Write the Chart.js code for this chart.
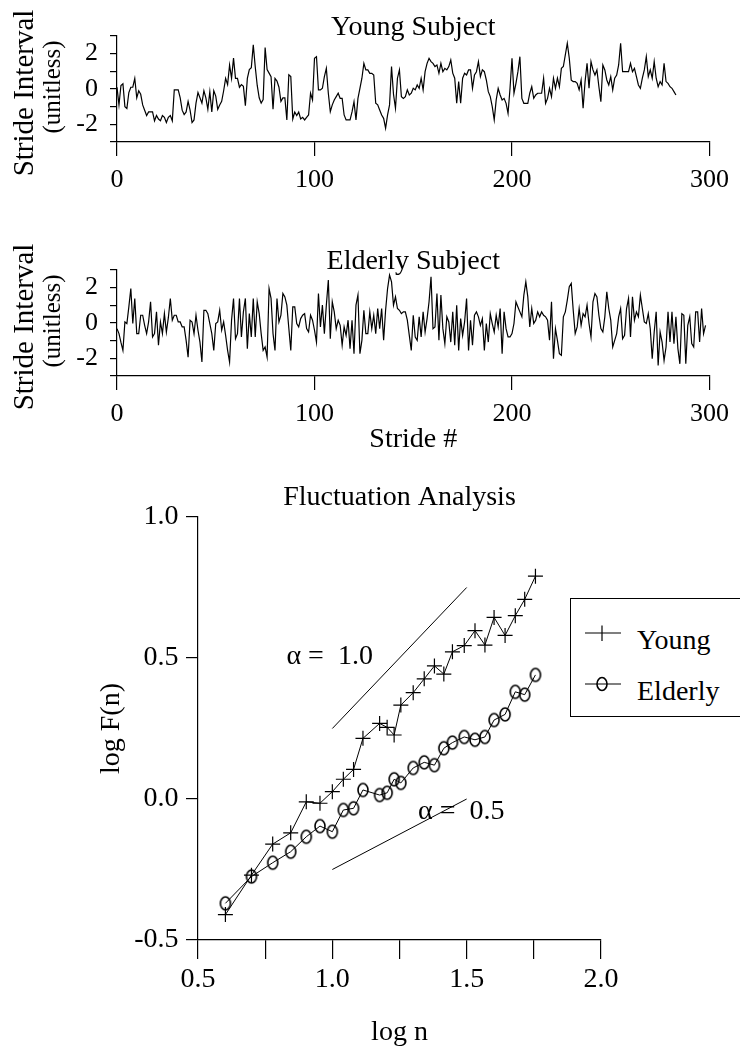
<!DOCTYPE html>
<html lang="en">

<head>
    <meta charset="UTF-8">
    <title>Stride Interval Fluctuation Analysis</title>
    <script src="https://cdn.jsdelivr.net/npm/chart.js"></script>
    <style>
        body {
            margin: 0;
            width: 740px;
            height: 1048px;
            overflow: hidden;
            background: #fff;
            font-family: "Liberation Serif", serif;
        }

        canvas {
            position: absolute;
            left: 0;
        }

        #legendBox {
            position: absolute;
            left: 570px;
            top: 598px;
            width: 190px;
            height: 119px;
            border: 1.5px solid #000;
            box-sizing: border-box;
            background: #fff;
        }

        #legendBox .txt {
            position: absolute;
            left: 66px;
            font-size: 28px;
            line-height: 28px;
            color: #000;
        }
    </style>
</head>

<body>
    <canvas id="youngChart" width="740" height="200" style="top:0px"></canvas>
    <canvas id="elderlyChart" width="740" height="232" style="top:234px"></canvas>
    <canvas id="dfaChart" width="740" height="568" style="top:480px"></canvas>

    <div id="legendBox">
        <svg width="190" height="119" style="position:absolute;left:0;top:0">
            <line x1="14" y1="34" x2="50" y2="34" stroke="#000" stroke-width="1.2" />
            <line x1="31" y1="26.5" x2="31" y2="42" stroke="#000" stroke-width="1.2" />
            <line x1="14" y1="85" x2="50" y2="85" stroke="#000" stroke-width="1.2" />
            <ellipse cx="31" cy="85" rx="5" ry="6.5" fill="none" stroke="#000" stroke-width="1.6" />
        </svg>
        <div class="txt" style="top:27px">Young</div>
        <div class="txt" style="top:78px">Elderly</div>
    </div>

    <script type="text/javascript">
        // stride interval series (unitless), one value per stride, stride # = index
        const youngStride = [
            0.1, -0.9, 0.2, 0.3, -1.0, -1.1, -0.2, 0.1, 0.1, 0.6,
            -0.5, -0.1, -0.3, -0.9, -1.2, -1.5, -1.3, -1.3, -1.3, -1.8,
            -1.5, -1.7, -1.8, -1.5, -1.6, -1.9, -1.6, -1.5, -1.8, -0.05,
            -0.05, -0.05, -0.5, -1.2, -1.45, -1.3, -0.7, -1.2, -1.9, -1.75,
            -0.8, -0.2, -0.5, -0.8, -0.1, -0.5, -1.15, -0.15, -1.3, -0.1,
            -0.4, -1.15, -0.9, -0.7, -0.1, 0.6, 0.25, 1.35, 0.6, 1.75,
            0.6, 0.6, 0.1, 0.25, 0.15, -0.95, 0.6, 1.1, 1.2, 2.5,
            1.25, 0.2, -0.5, -0.8, -0.6, 2.35, 1.1, 0.9, 0.7, -1.15,
            0.6, 0.45, 0.1, -0.7, -0.5, -0.5, -1.75, 0.8, 0.7, -1.7,
            -1.3, -1.5, -1.3, -1.7, -1.6, -1.75, -1.6,
            -1.47, -0.24, -0.62, 1.74, 1.83, -0.05, -0.05, 0.04, 0.70, 1.17,
            -0.24, -1.28, -0.9, -0.62, -0.43, -0.24, -0.53, -0.53, -1.47, -1.75,
            -1.75, -1.75, -1.3, -0.72, -1.75, -0.53, 0.04, 0.61, 1.45, 1.08,
            1.08, 0.89, 0.89, 0.79, -0.81, -0.9, -1.19, -1.47, -1.66, -2.22,
            -1.47, -0.9, 1.27, -0.3, -1.09, 0.61, 1.08, -0.43, -0.53, -0.43,
            -0.05, -0.34, -0.24, 0.04, -0.05, 0.23, 0.04, 0.61, -0.05, 0.98,
            1.45, 1.74, 1.55, 1.45, 1.27, 1.36, 0.89, 1.45, 0.98, 1.17,
            1.08, 1.27, 1.64, 0.9, 0.61, -0.81, 0.42, -0.81, 0.61, 0.89,
            0.79, 1.08, 1.08, 0.04, 0.79, 0.98, 1.55, 0.70, 1.08, 0.98,
            0.51, -0.15, -0.43, -1.0, -1.75,
            -0.62, 0.04, -0.34, -0.62, -0.53, -0.81, -1.38, 0.04, 1.74, -0.24,
            0.32, 0.98, 1.83, -0.53, -0.81, -0.81, -0.81, -0.24, 0.13, -0.53,
            -0.34, -0.24, -0.24, -0.24, 0.61, -0.81, -0.53, 0.04, -0.43, 0.61,
            0.04, 0.61, 0.13, 1.17, 1.27, 1.93, 2.59, 1.74, 0.5, 0.42,
            0.42, 0.32, -0.05, 0.51, -1.09, 0.42, 1.45, 0.04, 1.55, 1.08,
            0.79, 1.08, 0.13, -0.72, 1.36, 1.08, 0.51, 0.23, 0.70, -0.05,
            0.61, 0.79, 1.36, 2.59, 0.98, 0.98, 0.98, 0.98, 1.45, 0.98,
            1.17, 0.70, 0.23, 0.04, 0.61, 1.08, 1.83, 0.70, 1.08, 0.61,
            1.55, 0.61, 0.13, 0.42, 0.23, 1.45, 0.42, 0.32, 0.13, 0.04,
            -0.15, -0.34
        ];

        const elderlyStride = [
            -0.32, -0.60, -1.1, -1.55, 0.06, -0.03, 0.91, 1.95, -0.03, 1.39,
            -0.60, -0.60, 0.44, 0.44, -0.13, -0.60, 0.06, 1.20, -0.79, -0.60,
            0.63, -1.26, 0.06, -0.60, 0.53, -0.51, 0.3, 1.39, 0.16, 0.44,
            0.44, 0.06, 0.06, -0.22, -0.22, -0.98, -1.93, 0.16, 0.06, -0.60,
            0.44, -0.41, -1.08, -2.21, 0.72, 0.72, 0.53, -0.03, -0.60, -1.55,
            -0.03, 0.06, 0.72, -0.41, 0.06, -0.70, -1.55, -2.21, 0.16, 1.39,
            -0.89, -0.60, 1.39, -0.79, 0.63, 1.39, -1.45, 0.53, -0.79, 1.39,
            -0.79, 1.20, 0.53, -0.60, -1.55, -1.36, -1.93, 1.95, 1.39, -0.60,
            -1.55, 1.39, 0.06, 0.44, 1.67, 1.48, 1.01, -0.3, -1.55, 0.91,
            0.91, -0.03, -0.22, 0.25, 0.44, 0.53, -0.32,
            -0.51, 0.44, 0.16, -0.41, -1.08, 1.67, -0.22, 1.01, -0.60, 1.01,
            2.43, -0.89, 1.20, 0.63, -0.32, 0.16, -0.13, -1.26, -0.22, -0.70,
            0.16, -1.45, 0.16, -1.74, 1.01, 1.58, -1.74, -0.98, 0.72, -0.60,
            -0.60, 0.63, -0.32, 0.44, -0.60, 0.82, -0.32, 0.82, -0.98, 0.72,
            1.95, 2.71, 2.33, 1.01, 1.48, 0.82, 0.72, 0.53, 0.63, 0.63,
            0.16, -0.70, -1.55, 0.44, -0.79, -0.98, 0.35, -0.79, 0.63, -0.51,
            0.25, 1.20, 2.62, -0.32, -0.22, 1.67, -0.98, 1.58, -0.32, -1.17,
            0.35, 0.06, -1.08, 0.63, -1.26, 1.01, -1.55, 0.25, -0.70, 0.06,
            1.39, -1.55, 0.16, -1.26, 0.44, 0.63, 0.35, -0.13, 0.25, -1.55,
            -0.03, -1.08, 0.53, -0.03, -0.51,
            0.44, -0.22, 0.82, -1.74, 0.63, -0.32, -0.79, -0.79, -0.60, -0.03,
            1.20, 0.91, 0.63, 0.35, 1.58, 2.33, 1.48, -0.22, 0.82, -0.03,
            0.16, 0.63, 0.35, 0.63, 0.44, 0.35, 0.16, -0.98, 1.20, -2.02,
            -0.32, -0.98, -1.74, -1.83, 0.35, 0.63, 1.29, 2.05, 2.24, 0.72,
            -0.60, -0.22, 0.82, -0.13, 0.53, 0.35, 1.01, -0.03, -0.79, 1.20,
            1.67, 1.48, 0.44, -0.32, -0.51, 0.35, 1.77, 0.82, 0.16, -1.36,
            -0.98, -0.60, 0.35, 0.82, -0.89, -0.70, 0.82, 1.39, -0.79, 1.48,
            0.16, 0.63, 0.35, 1.58, 0.82, 0.06, -0.03, 0.53, -0.32, -2.02,
            -0.51, 0.63, -2.40, -0.51, -1.08, -2.12, -1.36, 0.63, -1.08, 0.63,
            -1.17, 0.35, -1.45, -2.31, 0.53, 0.44, -2.31, -0.13, 0.35, -1.17,
            -1.36, 0.63, 0.63, -1.08, 0.82, -0.60, -0.13
        ];
        const strideTickLabels = [-2, 0, 2];

        // fluctuation analysis: log n vs log F(n)
        const logN = [0.602, 0.699, 0.778, 0.845, 0.903, 0.954, 1.000, 1.041, 1.079, 1.114,
            1.176, 1.204, 1.230, 1.255, 1.301, 1.342, 1.380, 1.415, 1.447, 1.491,
            1.531, 1.568, 1.602, 1.643, 1.681, 1.716, 1.756];
        const youngLogF = [-0.41, -0.27, -0.16, -0.12, -0.01, -0.015, 0.026, 0.07, 0.105, 0.215,
            0.268, 0.254, 0.227, 0.333, 0.377, 0.426, 0.472, 0.443, 0.522, 0.544,
            0.597, 0.546, 0.644, 0.58, 0.65, 0.708, 0.79];
        const elderlyLogF = [-0.37, -0.275, -0.226, -0.187, -0.134, -0.096, -0.116, -0.039, -0.033, 0.032,
            0.014, 0.022, 0.07, 0.057, 0.11, 0.13, 0.12, 0.18, 0.20, 0.22,
            0.21, 0.22, 0.28, 0.30, 0.38, 0.37, 0.44];
        // reference slopes
        const slopeOneLine = [[1.0, 0.25], [1.5, 0.75]];
        const slopeHalfLine = [[1.0, -0.25], [1.5, 0.0]];
        const slopeNotes = [
            { text: 'α =  1.0', x: 0.99, y: 0.505 },
            { text: 'α =  0.5', x: 1.48, y: -0.045 }
        ];

        const serif = 'Liberation Serif';
        Chart.defaults.animation = false;
        Chart.defaults.color = '#000';

        // two-line rotated y title, each line with its own size
        const sideTitle = {
            id: 'sideTitle',
            afterDraw(chart, args, opts) {
                const { ctx, chartArea } = chart;
                const mid = (chartArea.top + chartArea.bottom) / 2;
                ctx.save();
                ctx.fillStyle = '#000';
                ctx.textAlign = 'center';
                ctx.textBaseline = 'middle';
                opts.lines.forEach(l => {
                    ctx.save();
                    ctx.translate(l.x, mid + l.dy);
                    ctx.rotate(-Math.PI / 2);
                    ctx.font = l.size + 'px "Liberation Serif"';
                    ctx.fillText(l.text, 0, 0);
                    ctx.restore();
                });
                ctx.restore();
            }
        };

        function strideChart(canvasId, values, title, showXTitle, canvasHeight) {
            var points = values.map((v, i) => ({ x: i, y: v }));
            return new Chart(document.getElementById(canvasId), {
                type: 'line',
                data: {
                    datasets: [{
                        data: points,
                        borderColor: '#000',
                        borderWidth: 1.2,
                        pointRadius: 0,
                        tension: 0,
                        fill: false
                    }]
                },
                options: {
                    responsive: false,
                    devicePixelRatio: 1,
                    layout: { padding: { left: 0, right: 26, top: 0, bottom: 0 } },
                    plugins: {
                        legend: { display: false },
                        tooltip: { enabled: false },
                        title: {
                            display: true,
                            text: title,
                            fullSize: false,
                            color: '#000',
                            font: { family: serif, size: 28, weight: 'normal', lineHeight: 1 },
                            padding: { top: 14, bottom: -6 }
                        },
                        sideTitle: {
                            lines: [
                                { text: 'Stride Interval', size: 29, x: 25, dy: 4 },
                                { text: '(unitless)', size: 25, x: 53, dy: -2 }
                            ]
                        }
                    },
                    scales: {
                        x: {
                            type: 'linear',
                            min: 0,
                            max: 300,
                            afterFit: (scale) => { scale.height = canvasHeight - 142; },
                            ticks: {
                                stepSize: 100,
                                maxRotation: 0,
                                autoSkip: false,
                                padding: 11,
                                color: '#000',
                                font: { family: serif, size: 26, lineHeight: 1 }
                            },
                            grid: { drawOnChartArea: false, tickLength: 14, color: '#000', lineWidth: 1.2 },
                            border: { color: '#000', width: 1.2 },
                            title: {
                                display: showXTitle,
                                text: 'Stride #',
                                color: '#000',
                                font: { family: serif, size: 28, lineHeight: 1 },
                                padding: { top: 0, bottom: 12 }
                            }
                        },
                        y: {
                            min: -3,
                            max: 3,
                            afterFit: (scale) => { scale.width = 117; },
                            ticks: {
                                stepSize: 1,
                                autoSkip: false,
                                padding: 12,
                                color: '#000',
                                font: { family: serif, size: 26, lineHeight: 1 },
                                callback: (v) => strideTickLabels.includes(v) ? String(v) : ''
                            },
                            grid: { drawOnChartArea: false, tickLength: 7, color: '#000', lineWidth: 1.2 },
                            border: { color: '#000', width: 1.2 }
                        }
                    }
                },
                plugins: [sideTitle]
            });
        }

        strideChart('youngChart', youngStride, 'Young Subject', false, 200);
        strideChart('elderlyChart', elderlyStride, 'Elderly Subject', true, 232);

        // "o" marker like the plotted letter
        function ringMark() {
            var c = document.createElement('canvas');
            c.width = 14;
            c.height = 17;
            var g = c.getContext('2d');
            g.strokeStyle = '#000';
            g.lineWidth = 1.6;
            g.beginPath();
            g.ellipse(7, 8.5, 5, 6.5, 0, 0, Math.PI * 2);
            g.stroke();
            return c;
        }

        const slopeText = {
            id: 'slopeText',
            afterDatasetsDraw(chart) {
                const { ctx, scales } = chart;
                ctx.save();
                ctx.font = '28px "Liberation Serif"';
                ctx.fillStyle = '#000';
                ctx.textAlign = 'center';
                ctx.textBaseline = 'middle';
                slopeNotes.forEach(n => {
                    ctx.fillText(n.text, scales.x.getPixelForValue(n.x), scales.y.getPixelForValue(n.y));
                });
                ctx.restore();
            }
        };

        function refLine(pairs) {
            return {
                data: pairs.map(p => ({ x: p[0], y: p[1] })),
                borderColor: '#000',
                borderWidth: 1,
                pointRadius: 0,
                tension: 0,
                fill: false
            };
        }

        new Chart(document.getElementById('dfaChart'), {
            type: 'line',
            data: {
                datasets: [
                    refLine(slopeOneLine),
                    refLine(slopeHalfLine),
                    {
                        label: 'Young',
                        data: logN.map((n, i) => ({ x: n, y: youngLogF[i] })),
                        borderColor: '#000',
                        borderWidth: 1,
                        pointStyle: 'cross',
                        pointRadius: 7.5,
                        pointBorderWidth: 1.2,
                        pointBorderColor: '#000',
                        tension: 0,
                        fill: false
                    },
                    {
                        label: 'Elderly',
                        data: logN.map((n, i) => ({ x: n, y: elderlyLogF[i] })),
                        borderColor: '#000',
                        borderWidth: 1,
                        pointStyle: ringMark(),
                        pointRadius: 7,
                        tension: 0,
                        fill: false
                    }
                ]
            },
            options: {
                responsive: false,
                devicePixelRatio: 1,
                layout: { padding: { left: 0, right: 139, top: 0, bottom: 0 } },
                plugins: {
                    legend: { display: false },
                    tooltip: { enabled: false },
                    title: {
                        display: true,
                        text: 'Fluctuation Analysis',
                        fullSize: false,
                        color: '#000',
                        font: { family: serif, size: 28, weight: 'normal', lineHeight: 1 },
                        padding: { top: 4, bottom: 5 }
                    }
                },
                scales: {
                    x: {
                        type: 'linear',
                        min: 0.5,
                        max: 2.0,
                        afterFit: (scale) => { scale.height = 108; },
                        ticks: {
                            stepSize: 0.25,
                            autoSkip: false,
                            maxRotation: 0,
                            padding: 7,
                            color: '#000',
                            font: { family: serif, size: 28, lineHeight: 1 },
                            callback: (v) => Math.abs(v * 2 - Math.round(v * 2)) < 1e-6 ? v.toFixed(1) : ''
                        },
                        grid: { drawOnChartArea: false, tickLength: 19, color: '#000', lineWidth: 1.2 },
                        border: { color: '#000', width: 1.2 },
                        title: {
                            display: true,
                            text: 'log n',
                            color: '#000',
                            font: { family: serif, size: 28, lineHeight: 1 },
                            padding: { top: 0, bottom: 1 }
                        }
                    },
                    y: {
                        min: -0.5,
                        max: 1.0,
                        afterFit: (scale) => { scale.width = 198; },
                        ticks: {
                            stepSize: 0.5,
                            autoSkip: false,
                            padding: 7.5,
                            color: '#000',
                            font: { family: serif, size: 28, lineHeight: 1 },
                            callback: (v) => v.toFixed(1)
                        },
                        grid: { drawOnChartArea: false, tickLength: 12, color: '#000', lineWidth: 1.2 },
                        border: { color: '#000', width: 1.2 },
                        title: {
                            display: true,
                            text: 'log F(n)',
                            color: '#000',
                            font: { family: serif, size: 28, lineHeight: 1 },
                            padding: { top: 98, bottom: 0 }
                        }
                    }
                }
            },
            plugins: [slopeText]
        });
    </script>
</body>

</html>
